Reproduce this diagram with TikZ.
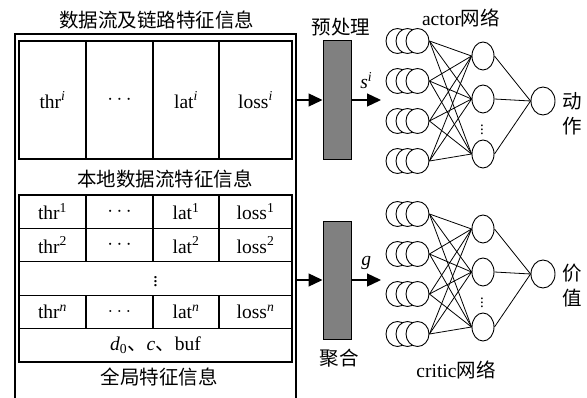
\documentclass[tikz,border=0pt]{standalone}
\usepackage{fontspec}
\setmainfont{Liberation Serif}
\newfontfamily\cjk{Noto Sans CJK SC}
\usetikzlibrary{arrows.meta,positioning,shapes.geometric}
\definecolor{boxgray}{HTML}{808080}

\begin{document}
\begin{tikzpicture}[x=1pt,y=-1pt,font=\fontsize{19.5}{25}\selectfont,
  cell/.style={draw,line width=1.2pt,inner sep=0pt,minimum height=33.4pt},
  unit/.style={draw,ellipse,fill=white,inner sep=0pt,minimum width=23pt,minimum height=25pt,line width=0.9pt},
  hid/.style={draw,ellipse,fill=white,inner sep=0pt,minimum width=22pt,minimum height=28pt,line width=0.9pt},
  proc/.style={draw,fill=boxgray,line width=1pt,inner sep=0pt,minimum width=28pt,minimum height=119pt},
  flow/.style={line width=1.3pt,-{Triangle[length=14pt,width=13pt]}},
  link/.style={line width=0.8pt}]
  \useasboundingbox (0,0) rectangle (587,398);

  % left part: feature tables
  \draw[line width=1.2pt] (15,398) -- (15,34) -- (296,34) -- (296,398);
  \node (title) at (157,20) {\cjk 数据流及链路特征信息};
  \node[cell,minimum width=67pt,minimum height=118pt] (l1) at (52.5,100) {thr\textsuperscript{\textit{i}}};
  \node[cell,minimum width=67pt,minimum height=118pt] (l2) at (119.5,100) {$\cdots$};
  \node[cell,minimum width=66pt,minimum height=118pt] (l3) at (186,100) {lat\textsuperscript{\textit{i}}};
  \node[cell,minimum width=73pt,minimum height=118pt] (l4) at (255.5,100) {loss\textsuperscript{\textit{i}}};
  \node (local) at (165,179) {\cjk 本地数据流特征信息};
  \foreach \r/\y/\s/\d in {1/211.7/1/\cdots,2/245.1/2/\cdots,n/311.9/\textit{n}/\ldots} {
    \node[cell,minimum width=67pt] (g\r a) at (52.5,\y) {thr\textsuperscript{\s}};
    \node[cell,minimum width=67pt] (g\r b) at (119.5,\y) {$\d$};
    \node[cell,minimum width=66pt] (g\r c) at (186,\y) {lat\textsuperscript{\s}};
    \node[cell,minimum width=73pt] (g\r d) at (255.5,\y) {loss\textsuperscript{\s}};
  }
  \node[cell,minimum width=273pt] (gdots) at (155.5,278.5) {$\vdots$};
  \node[cell,minimum width=273pt] (gmisc) at (155.5,345.3) {\textit{d}\textsubscript{0}{\cjk 、}\textit{c}{\cjk 、}buf};
  \node (global) at (159,377.5) {\cjk 全局特征信息};

  % preprocessing and aggregation
  \node[proc] (prep) at (337,100) {};
  \node[proc,minimum height=118pt] (agg) at (337,281) {};
  \node (preptext) at (341,27.5) {\cjk 预处理};
  \node (aggtext) at (339,358.5) {\cjk 聚合};
  \coordinate (feedA) at (296,100);
  \coordinate (feedB) at (296,280);
  \coordinate (inA) at (381,100);
  \coordinate (inB) at (381,280);
  \draw[flow] (feedA) -- (feedA -| prep.west);
  \draw[flow] (feedB) -- (feedB -| agg.west);
  \draw[flow] (prep.east |- inA) -- (inA) node[midway,above=7pt] {\textit{s}\textsuperscript{\textit{i}}};
  \draw[flow] (agg.east |- inB) -- (inB) node[midway,above=6pt] {\textit{g}};

  % actor and critic networks
  \foreach \net/\dy in {a/0,c/173} {
    \foreach \k in {1,...,4} {
      \node[unit] at (397.5,1+40*\k+\dy) {};
      \node[unit] at (407.5,1+40*\k+\dy) {};
      \node[unit] (\net i\k) at (417.5,1+40*\k+\dy) {};
    }
    \node[hid] (\net h1) at (483,56+\dy) {};
    \node[hid] (\net h2) at (483,99+\dy) {};
    \node[hid] (\net h3) at (483,154+\dy) {};
    \node[hid,minimum width=24pt] (\net o) at (543,101+\dy) {};
    \node[inner sep=0pt,font=\fontsize{15}{18}\selectfont] at (482,127+\dy) {$\vdots$};
    \foreach \k in {1,...,4}
      \foreach \j in {1,2,3}
        \draw[link] (\net i\k.east) -- (\net h\j.west);
    \foreach \j in {1,2,3}
      \draw[link] (\net h\j.east) -- (\net o.west);
  }
  \node (actor) at (461,17.5) {actor{\cjk 网络}};
  \node (critic) at (456,369.5) {critic{\cjk 网络}};
  \node[align=center,font=\fontsize{19.5}{25}\selectfont\cjk] (act) at (572,114) {动\\作};
  \node[align=center,font=\fontsize{19.5}{25}\selectfont\cjk] (val) at (572,286) {价\\值};
\end{tikzpicture}
\end{document}
